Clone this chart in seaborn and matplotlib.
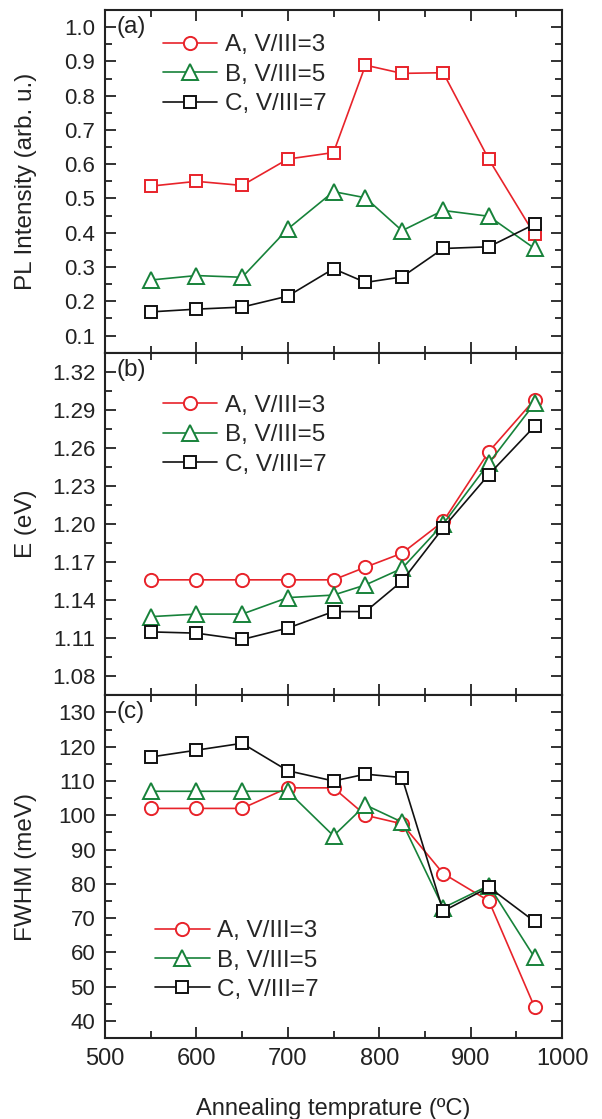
import matplotlib
matplotlib.use("Agg")
import matplotlib.pyplot as plt
from matplotlib.lines import Line2D
from matplotlib.ticker import MultipleLocator, FormatStrFormatter
import seaborn as sns
import pandas as pd

# Annealing temperatures (°C)
temperature = [550, 600, 650, 700, 750, 785, 825, 870, 920, 970]

# (a) PL intensity (arb. u.)
pl_A = [0.536, 0.550, 0.538, 0.615, 0.634, 0.889, 0.865, 0.867, 0.614, 0.395]
pl_B = [0.262, 0.275, 0.270, 0.411, 0.520, 0.502, 0.406, 0.465, 0.448, 0.354]
pl_C = [0.169, 0.177, 0.183, 0.215, 0.295, 0.255, 0.271, 0.354, 0.359, 0.425]

# (b) Peak energy (eV)
e_A = [1.156, 1.156, 1.156, 1.156, 1.156, 1.166, 1.177, 1.202, 1.257, 1.298]
e_B = [1.127, 1.129, 1.129, 1.142, 1.144, 1.152, 1.165, 1.200, 1.248, 1.295]
e_C = [1.115, 1.114, 1.109, 1.118, 1.131, 1.131, 1.155, 1.197, 1.239, 1.277]

# (c) FWHM (meV)
fw_A = [102, 102, 102, 108, 108, 100, 97.5, 83, 75, 44]
fw_B = [107, 107, 107, 107, 94, 103, 98, 73, 79.5, 58.5]
fw_C = [117, 119, 121, 113, 110, 112, 111, 72, 79, 69]

series_labels = ["A, V/III=3", "B, V/III=5", "C, V/III=7"]
panel_tags = ["(a)", "(b)", "(c)"]
y_titles = ["PL Intensity (arb. u.)", "E (eV)", "FWHM (meV)"]
x_title = "Annealing temprature (\u00baC)"

RED = "#e8232a"
GREEN = "#17823a"
BLACK = "#111111"
INK = "#222222"

sns.set_theme(style="ticks")
plt.rcParams["font.family"] = ["Liberation Sans", "DejaVu Sans"]
plt.rcParams["axes.linewidth"] = 1.5

fig = plt.figure(figsize=(6.02, 11.19), dpi=100)
gs = fig.add_gridspec(3, 1, left=105 / 602, right=562 / 602,
                      top=1 - 10 / 1119, bottom=1 - 1038 / 1119, hspace=0)
axes = [fig.add_subplot(gs[i]) for i in range(3)]

panels = [
    ([pl_A, pl_B, pl_C], ["s", "^", "s"]),
    ([e_A, e_B, e_C], ["o", "^", "s"]),
    ([fw_A, fw_B, fw_C], ["o", "^", "s"]),
]
colors = [RED, GREEN, BLACK]
msizes = {"o": 9.5, "^": 11.5, "s": 8.2}

for ax, (vals, marks) in zip(axes, panels):
    for yv, mk, col, lab in zip(vals, marks, colors, series_labels):
        df = pd.DataFrame({"T": temperature, "v": yv})
        sns.lineplot(data=df, x="T", y="v", ax=ax, color=col, marker=mk,
                     markersize=msizes[mk], markerfacecolor="white",
                     markeredgecolor=col, markeredgewidth=1.4,
                     linewidth=1.2, label=lab, legend=False)

limits = [(0.05, 1.05), (1.065, 1.335), (35, 135)]
majors = [0.1, 0.03, 10]
fmts = ["%.1f", "%.2f", "%d"]
for ax, lim, mj, fm, yt, tag in zip(axes, limits, majors, fmts, y_titles, panel_tags):
    ax.set_xlim(500, 1000)
    ax.set_ylim(*lim)
    ax.xaxis.set_major_locator(MultipleLocator(100))
    ax.xaxis.set_minor_locator(MultipleLocator(50))
    ax.yaxis.set_major_locator(MultipleLocator(mj))
    ax.yaxis.set_minor_locator(MultipleLocator(mj / 2))
    ax.yaxis.set_major_formatter(FormatStrFormatter(fm))
    ax.tick_params(which="both", direction="in", top=True, right=True,
                   colors=INK, labelcolor=INK)
    ax.tick_params(axis="y", labelsize=16, pad=7)
    ax.tick_params(axis="x", labelsize=17, pad=7)
    ax.tick_params(which="major", length=8, width=1.3)
    ax.tick_params(which="minor", length=5, width=1.3)
    ax.set_ylabel(yt, fontsize=17.5, color=INK)
    ax.yaxis.set_label_coords(-0.148, 0.5)
    ax.set_xlabel("")
    for s in ax.spines.values():
        s.set_color(INK)
    ax.text(0.026, 0.95, tag, transform=ax.transAxes, fontsize=17.5,
            va="center", ha="left", color=INK)

for ax in axes[:2]:
    ax.tick_params(labelbottom=False)

axes[2].set_xlabel(x_title, fontsize=17, color=INK, labelpad=20)


def legend_handles(marks):
    return [Line2D([0], [0], color=c, marker=m, markersize=msizes[m],
                   markerfacecolor="white", markeredgecolor=c,
                   markeredgewidth=1.4, linewidth=1.2)
            for m, c in zip(marks, colors)]


leg_kw = dict(frameon=False, fontsize=17.5, handlelength=2.25, handletextpad=0.3,
              labelspacing=0.3, borderaxespad=0)
axes[0].legend(legend_handles(["o", "^", "s"]), series_labels,
               loc="upper left", bbox_to_anchor=(0.105, 0.957), **leg_kw)
axes[1].legend(legend_handles(["o", "^", "s"]), series_labels,
               loc="upper left", bbox_to_anchor=(0.105, 0.905), **leg_kw)
axes[2].legend(legend_handles(["o", "^", "s"]), series_labels,
               loc="upper left", bbox_to_anchor=(0.088, 0.372), **leg_kw)

fig.savefig("out.png", dpi=100)
